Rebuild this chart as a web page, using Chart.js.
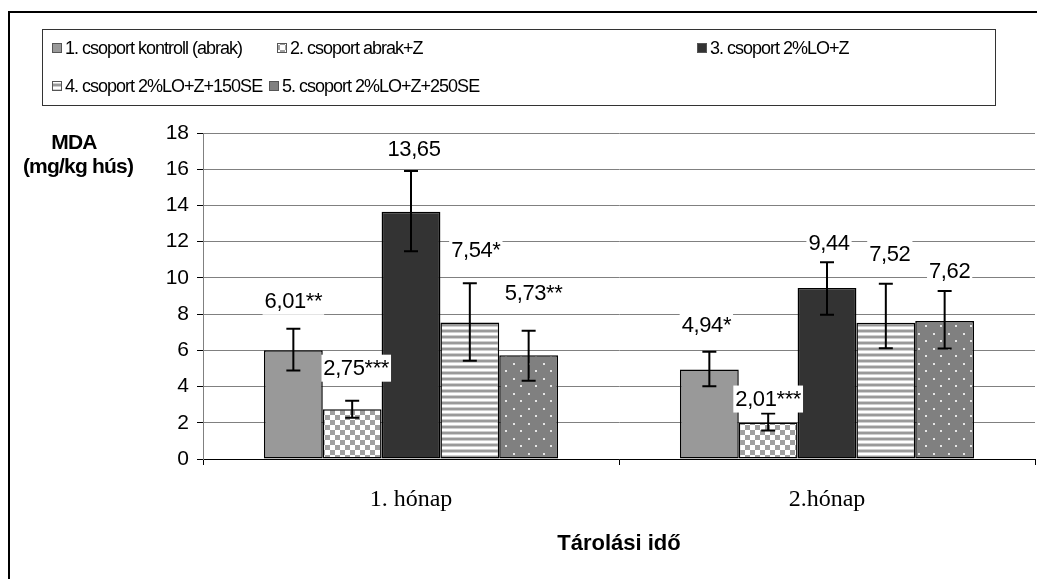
<!DOCTYPE html>
<html>
<head>
<meta charset="utf-8">
<script src="https://cdn.jsdelivr.net/npm/chart.js@4.4.1/dist/chart.umd.min.js"></script>
<style>
  html, body { margin: 0; padding: 0; background: #fff; }
  #wrap { width: 1037px; height: 579px; }
</style>
</head>
<body>
<div id="wrap"><canvas id="mda" width="1037" height="579"></canvas></div>
<script>
// categories
var months = ['1. hónap', '2.hónap'];
var groups = ['1. csoport kontroll (abrak)', '2. csoport abrak+Z', '3. csoport 2%LO+Z',
              '4. csoport 2%LO+Z+150SE', '5. csoport 2%LO+Z+250SE'];
// MDA values per group (1. hónap, 2.hónap)
var kontroll = [6.01, 4.94];
var abrakZ = [2.75, 2.01];
var lo = [13.65, 9.44];
var lo150 = [7.54, 7.52];
var lo250 = [5.73, 7.62];
// error bars (up / down)
var errPlus = [[1.18, 0.98], [0.47, 0.50], [2.25, 1.42], [2.17, 2.15], [1.35, 1.66]];
var errMinus = [[1.13, 0.92], [0.47, 0.44], [2.18, 1.47], [2.12, 1.40], [1.41, 1.52]];
// significance marks
var stars = [['**', '*'], ['***', '***'], ['', ''], ['*', ''], ['**', '']];
var yTicks = [0, 2, 4, 6, 8, 10, 12, 14, 16, 18];

// label nudges in px [dx, lift above error bar]
var labelNudge = [[[0, 28], [-3, 27]], [[4, 33], [0, 15]], [[3, 22], [2, 19]],
                  [[6, 33], [4, 30]], [[5, 38], [5, 20]]];
var legendPos = [[52, 48], [277, 48], [697, 48], [52, 86], [269, 86]];

var SANS = '"Liberation Sans", Arial, sans-serif';

function makePattern(w, h, draw) {
  var c = document.createElement('canvas');
  c.width = w; c.height = h;
  var g = c.getContext('2d');
  draw(g);
  return g.createPattern(c, 'repeat');
}
var checker = makePattern(10, 10, function (g) {
  g.fillStyle = '#fff'; g.fillRect(0, 0, 10, 10);
  g.fillStyle = '#a0a0a0'; g.fillRect(0, 0, 5, 5); g.fillRect(5, 5, 5, 5);
});
var stripes = makePattern(4, 6, function (g) {
  g.fillStyle = '#fff'; g.fillRect(0, 0, 4, 6);
  g.fillStyle = '#9a9a9a'; g.fillRect(0, 0, 4, 2);
  g.fillStyle = '#cfcfcf'; g.fillRect(0, 2, 4, 1); g.fillRect(0, 5, 4, 1);
});
var dots = makePattern(15, 15, function (g) {
  g.fillStyle = '#808080'; g.fillRect(0, 0, 15, 15);
  g.fillStyle = '#e6e6e6'; g.fillRect(3, 3, 2, 2); g.fillRect(10, 10, 2, 2);
});
var fills = ['#999999', checker, '#333333', stripes, dots];
var series = [kontroll, abrakZ, lo, lo150, lo250];

var frame = {
  id: 'frame',
  beforeDraw: function (chart) {
    var ctx = chart.ctx;
    ctx.save();
    ctx.fillStyle = '#fff';
    ctx.fillRect(0, 0, chart.width, chart.height);
    // outer frame (runs off the right and bottom)
    ctx.strokeStyle = '#000';
    ctx.lineWidth = 2;
    ctx.beginPath();
    ctx.moveTo(9, chart.height + 5); ctx.lineTo(9, 12); ctx.lineTo(chart.width + 5, 12);
    ctx.stroke();
    // legend box
    ctx.lineWidth = 1;
    ctx.strokeStyle = '#333';
    ctx.strokeRect(42.5, 29.5, 953, 76);
    ctx.letterSpacing = '-1px';
    ctx.font = '18px ' + SANS;
    ctx.textBaseline = 'middle';
    ctx.textAlign = 'left';
    chart.data.datasets.forEach(function (ds, i) {
      var p = legendPos[i];
      ctx.fillStyle = ds.backgroundColor;
      ctx.fillRect(p[0], p[1] - 5, 10, 10);
      ctx.strokeStyle = '#555';
      ctx.strokeRect(p[0] + 0.5, p[1] - 4.5, 9, 9);
      ctx.fillStyle = '#000';
      ctx.fillText(ds.label, p[0] + 13, p[1] + 1);
    });
    // y title
    ctx.font = 'bold 21px ' + SANS;
    ctx.letterSpacing = '-0.8px';
    ctx.textAlign = 'center';
    ctx.fillText('MDA', 74, 143);
    ctx.fillText('(mg/kg hús)', 78, 167);
    ctx.restore();
  },
  afterDatasetsDraw: function (chart) {
    var ctx = chart.ctx;
    var y = chart.scales.y;
    ctx.save();
    chart.data.datasets.forEach(function (ds, i) {
      chart.getDatasetMeta(i).data.forEach(function (bar, j) {
        var v = ds.data[j];
        var top = y.getPixelForValue(v + errPlus[i][j]);
        var bot = y.getPixelForValue(v - errMinus[i][j]);
        ctx.strokeStyle = '#000';
        ctx.lineWidth = 2;
        ctx.beginPath();
        ctx.moveTo(bar.x, top); ctx.lineTo(bar.x, bot);
        ctx.moveTo(bar.x - 7, top); ctx.lineTo(bar.x + 7, top);
        ctx.moveTo(bar.x - 7, bot); ctx.lineTo(bar.x + 7, bot);
        ctx.stroke();
      });
    });
    ctx.font = '22px ' + SANS;
    ctx.letterSpacing = '-0.4px';
    ctx.textBaseline = 'middle';
    ctx.textAlign = 'center';
    chart.data.datasets.forEach(function (ds, i) {
      chart.getDatasetMeta(i).data.forEach(function (bar, j) {
        var v = ds.data[j];
        var txt = v.toFixed(2).replace('.', ',') + stars[i][j];
        var top = y.getPixelForValue(v + errPlus[i][j]);
        var cx = bar.x + labelNudge[i][j][0];
        var cy = top - labelNudge[i][j][1];
        var w = ctx.measureText(txt).width;
        ctx.fillStyle = '#fff';
        ctx.fillRect(cx - w / 2 - 2, cy - 13, w + 4, 27);
        ctx.fillStyle = '#000';
        ctx.fillText(txt, cx, cy + 1);
      });
    });
    ctx.restore();
  }
};

var datasets = series.map(function (vals, i) {
  return {
    label: groups[i],
    data: vals,
    backgroundColor: fills[i],
    borderColor: '#000',
    borderWidth: 1.5,
    borderSkipped: false,
    categoryPercentage: 0.707,
    barPercentage: 1
  };
});

new Chart(document.getElementById('mda'), {
  type: 'bar',
  data: { labels: months, datasets: datasets },
  plugins: [frame],
  options: {
    responsive: false,
    animation: false,
    events: [],
    layout: { padding: { top: 133, right: 2, left: 0, bottom: 0 } },
    plugins: { legend: { display: false }, tooltip: { enabled: false } },
    scales: {
      x: {
        grid: { drawOnChartArea: false, tickLength: 6, color: '#000', offset: true },
        border: { color: '#000', width: 1 },
        ticks: { color: '#000', font: { family: '"Liberation Serif", "Times New Roman", serif', size: 24 }, padding: 20 },
        title: { display: true, text: 'Tárolási idő', color: '#000',
                 font: { family: SANS, size: 22, weight: 'bold' }, padding: { top: 0, bottom: 22 } },
        afterFit: function (s) { s.height = 120; }
      },
      y: {
        min: 0, max: 18,
        afterBuildTicks: function (s) { s.ticks = yTicks.map(function (v) { return { value: v }; }); },
        grid: { color: '#808080', tickColor: '#000', tickLength: 6 },
        border: { color: '#808080', width: 1 },
        ticks: { color: '#000', font: { family: SANS, size: 21 }, padding: 8 },
        afterFit: function (s) { s.width = 203; }
      }
    }
  }
});
</script>
</body>
</html>
